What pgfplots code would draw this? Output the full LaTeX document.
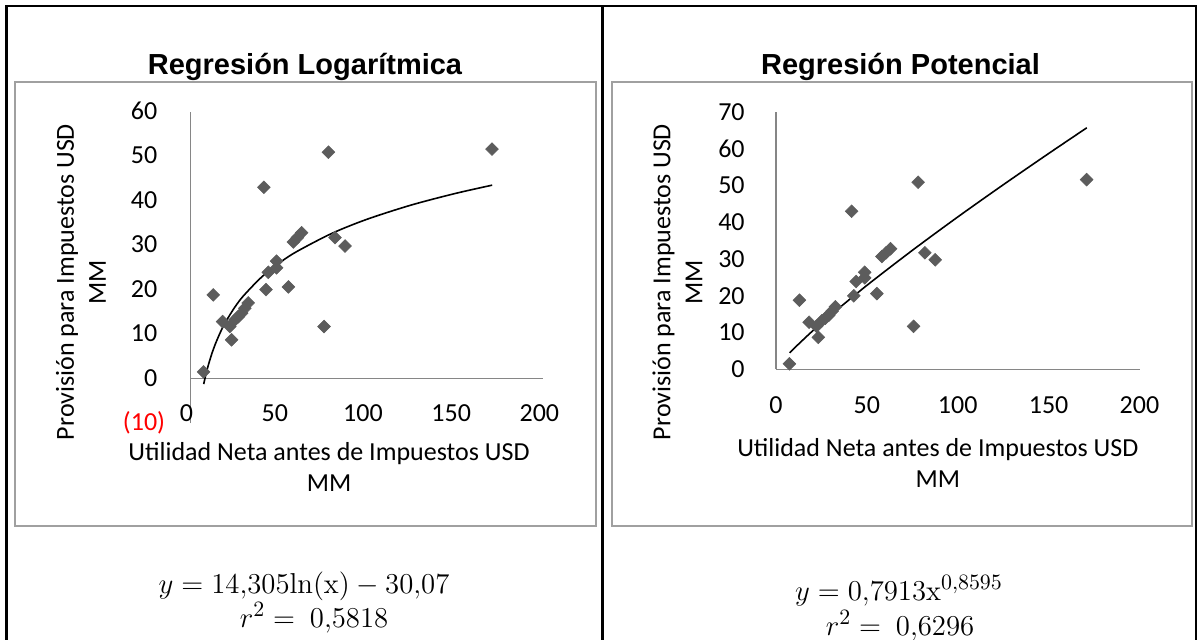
\documentclass[border=0pt]{standalone}
\usepackage{pgfplots}
\pgfplotsset{compat=1.18}
\usepackage[no-math]{fontspec}
\setmainfont{Carlito}
\newfontfamily\arial{Liberation Sans}
\definecolor{boxgray}{RGB}{160,160,160}
\definecolor{axgray}{RGB}{134,134,134}
\definecolor{mkgray}{RGB}{92,92,92}
\pgfplotstableread{
x y
7.4 1.5
12.9 18.8
18.2 12.8
22.3 11.7
23.3 8.7
25.2 13.2
27.1 13.9
29.0 14.7
30.8 15.8
32.7 17.0
41.6 43.0
42.8 20.0
44.1 23.9
48.8 24.9
48.8 26.4
55.5 20.6
58.3 30.7
60.6 31.7
63.0 32.8
75.7 11.7
78.2 50.9
81.9 31.7
87.6 29.8
170.9 51.6
}\datos
\newcommand{\tk}{\fontsize{13}{15.6}\selectfont}
\begin{document}
\begin{tikzpicture}
\useasboundingbox (0,0) rectangle (599.5pt,-319.5pt);
\begin{scope}[x=0.5pt,y=-0.5pt]
% outer table
\draw[black,line width=1.1pt] (6.5,700) -- (6.5,6) -- (1196,6) -- (1196,700);
\draw[black,line width=1.1pt] (602.5,6) -- (602.5,700);
% chart boxes
\draw[boxgray,line width=1pt] (15.3,81.7) rectangle (596,526);
\draw[boxgray,line width=1pt] (611.5,81.7) rectangle (1192,526);
% titles
\node[anchor=base,inner sep=0pt,font=\arial\bfseries\fontsize{14.5}{17}\selectfont] at (305,74) {Regresión Logarítmica};
\node[anchor=base,inner sep=0pt,font=\arial\bfseries\fontsize{14.5}{17}\selectfont] at (900.5,74) {Regresión Potencial};
% axis titles
\node[rotate=90,align=center,inner sep=0pt,font=\fontsize{13}{16}\selectfont] at (81,282) {Provisión para Impuestos USD\\MM};
\node[rotate=90,align=center,inner sep=0pt,font=\fontsize{13}{16}\selectfont] at (677.5,282) {Provisión para Impuestos USD\\MM};
\node[align=center,inner sep=0pt,font=\fontsize{13}{15.5}\selectfont] at (329,467) {Utilidad Neta antes de Impuestos USD\\MM};
\node[align=center,inner sep=0pt,font=\fontsize{13}{15.5}\selectfont] at (937.8,463) {Utilidad Neta antes de Impuestos USD\\MM};
% formulas
\node[anchor=base,inner sep=0pt,font=\fontsize{15}{18}\selectfont] at (304,593) {$y = 14{,}305\mathrm{ln}(\mathrm{x}) - 30{,}07$};
\node[anchor=base,inner sep=0pt,font=\fontsize{15}{18}\selectfont] at (314,627) {$r^2 =\ 0{,}5818$};
\node[anchor=base,inner sep=0pt,font=\fontsize{15}{18}\selectfont] at (899,600) {$y = 0{,}7913\mathrm{x}^{0{,}8595}$};
\node[anchor=base,inner sep=0pt,font=\fontsize{15}{18}\selectfont] at (900,635) {$r^2 =\ 0{,}6296$};
\end{scope}

% left chart
\begin{axis}[
  at={(95.25pt,-211.5pt)}, anchor=south west,
  scale only axis, width=176.4pt, height=155.65pt,
  xmin=0, xmax=200, ymin=-10, ymax=60,
  axis x line=middle, axis y line=left,
  hide obscured x ticks=false, hide obscured y ticks=false,
  axis line style={-, draw=axgray, line width=0.75pt},
  major tick length=0pt,
  xtick={0,50,100,150,200},
  xticklabels={0\phantom{)},50\phantom{)},100\phantom{)},150\phantom{)},200\phantom{)}},
  ytick={-10,0,10,20,30,40,50,60},
  yticklabels={{\textcolor{red}{(10)}},0\phantom{)},10\phantom{)},20\phantom{)},30\phantom{)},40\phantom{)},50\phantom{)},60\phantom{)}},
  xticklabel style={font=\tk, anchor=center, inner sep=0pt, yshift=-17.4pt},
  yticklabel style={font=\tk, anchor=east, inner sep=0pt, xshift=-12.5pt},
  clip=false,
]
\addplot[only marks, mark=square*, mark size=2.25pt, mark options={rotate=45, fill=mkgray, draw=mkgray, line width=0.3pt}] table[x=x,y=y] {\datos};
\addplot[black, line width=0.8pt, smooth] coordinates {
(7.5,-1.247) (8,-0.324) (9,1.361) (10,2.868) (12,5.477) (14,7.682) (17,10.459) (20,12.784) (25,15.976) (30,18.584) (40,22.700) (50,25.892) (60,28.499) (80,32.615) (100,35.807) (125,38.999) (150,41.607) (171,43.483)};
\end{axis}

% right chart
\begin{axis}[
  at={(388pt,-184.65pt)}, anchor=south west,
  scale only axis, width=181.75pt, height=128.65pt,
  xmin=0, xmax=200, ymin=0, ymax=70,
  axis x line=bottom, axis y line=left,
  axis line style={-, draw=axgray, line width=0.75pt},
  major tick length=0pt,
  xtick={0,50,100,150,200},
  xticklabels={0,50,100,150,200},
  ytick={0,10,20,30,40,50,60,70},
  yticklabels={0,10,20,30,40,50,60,70},
  xticklabel style={font=\tk, anchor=center, inner sep=0pt, yshift=-17.8pt},
  yticklabel style={font=\tk, anchor=east, inner sep=0pt, xshift=-15.5pt},
  clip=false,
]
\addplot[only marks, mark=square*, mark size=2.25pt, mark options={rotate=45, fill=mkgray, draw=mkgray, line width=0.3pt}] table[x=x,y=y] {\datos};
\addplot[black, line width=0.8pt, smooth] coordinates {
(7.5,4.472) (10,5.726) (20,10.389) (30,14.721) (50,22.84) (75,32.36) (100,41.45) (125,50.20) (150,58.71) (171,65.71)};
\end{axis}
\end{tikzpicture}
\end{document}
